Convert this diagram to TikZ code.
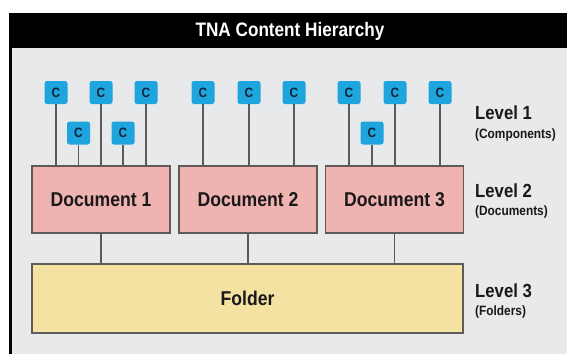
\documentclass[tikz,border=0pt]{standalone}
\usepackage{fontspec}
\setmainfont{Liberation Sans}[FakeStretch=0.88]
\definecolor{bodygray}{HTML}{E8E9EB}
\definecolor{cblue}{HTML}{1EA5DD}
\definecolor{ctext}{HTML}{10233A}
\definecolor{docpink}{HTML}{EFB3B2}
\definecolor{foldyel}{HTML}{F4E2A2}
\definecolor{edgegray}{HTML}{5E5A58}
\definecolor{linegray}{HTML}{5A5A5A}
\tikzset{
  cbox/.style={fill=cblue, rounded corners=2.5pt, minimum width=23pt, minimum height=23pt, inner sep=0pt, text=ctext, font=\bfseries\fontsize{13.5}{14}\selectfont},
  docbox/.style={draw=edgegray, line width=1.2pt, fill=docpink, minimum width=138pt, minimum height=67pt, inner sep=0pt, font=\bfseries\fontsize{20}{22}\selectfont, text=black!90},
  folderbox/.style={draw=edgegray, line width=1.2pt, fill=foldyel, minimum width=431pt, minimum height=69pt, inner sep=0pt, font=\bfseries\fontsize{20}{22}\selectfont, text=black!90},
  conn/.style={draw=linegray, line width=1.2pt},
  levelbig/.style={anchor=base west, inner sep=0pt, font=\bfseries\fontsize{19}{20}\selectfont, text=black!90},
  levelsmall/.style={anchor=base west, inner sep=0pt, font=\bfseries\fontsize{13.5}{14}\selectfont, text=black!90},
  titletext/.style={text=white, inner sep=0pt, font=\bfseries\fontsize{19.5}{20}\selectfont}
}
\begin{document}
\begin{tikzpicture}[x=1pt,y=-1pt]
\useasboundingbox (0,0) rectangle (567,354);
\fill[white] (0,0) rectangle (567,354);
% body and frame
\fill[bodygray] (9,48) rectangle (567,354);
\fill[black] (9,13) rectangle (567,48);
\fill[black] (9,48) rectangle (12,354);
\node[titletext] (title) at (290,31) {TNA Content Hierarchy};
% documents and folder
\node[docbox] (d1) at (101,199.5) {Document 1};
\node[docbox] (d2) at (248,199.5) {Document 2};
\node[docbox] (d3) at (394.5,199.5) {Document 3};
\node[folderbox] (f) at (247.5,298.5) {Folder};
% components, top row
\node[cbox] (c1) at (56,92.5) {C};
\node[cbox] (c2) at (101,92.5) {C};
\node[cbox] (c3) at (146,92.5) {C};
\node[cbox] (c4) at (203,92.5) {C};
\node[cbox] (c5) at (249,92.5) {C};
\node[cbox] (c6) at (294,92.5) {C};
\node[cbox] (c7) at (349,92.5) {C};
\node[cbox] (c8) at (395,92.5) {C};
\node[cbox] (c9) at (440,92.5) {C};
% components, lower row
\node[cbox] (c10) at (78.5,133) {C};
\node[cbox] (c11) at (123,133) {C};
\node[cbox] (c12) at (372,133) {C};
% connectors components -> documents
\foreach \c/\d in {c1/d1,c2/d1,c3/d1,c10/d1,c11/d1,c4/d2,c5/d2,c6/d2,c7/d3,c8/d3,c9/d3,c12/d3}
  \draw[conn] (\c.south) -- (\c.south |- \d.north);
% connectors documents -> folder
\foreach \d in {d1,d2,d3}
  \draw[conn] (\d.south) -- (\d.south |- f.north);
% level labels
\node[levelbig] (l1) at (475,119) {Level 1};
\node[levelsmall] (l1s) at (475,138.5) {(Components)};
\node[levelbig] (l2) at (475,197.5) {Level 2};
\node[levelsmall] (l2s) at (475,215.5) {(Documents)};
\node[levelbig] (l3) at (475,297) {Level 3};
\node[levelsmall] (l3s) at (475,315) {(Folders)};
\end{tikzpicture}
\end{document}
